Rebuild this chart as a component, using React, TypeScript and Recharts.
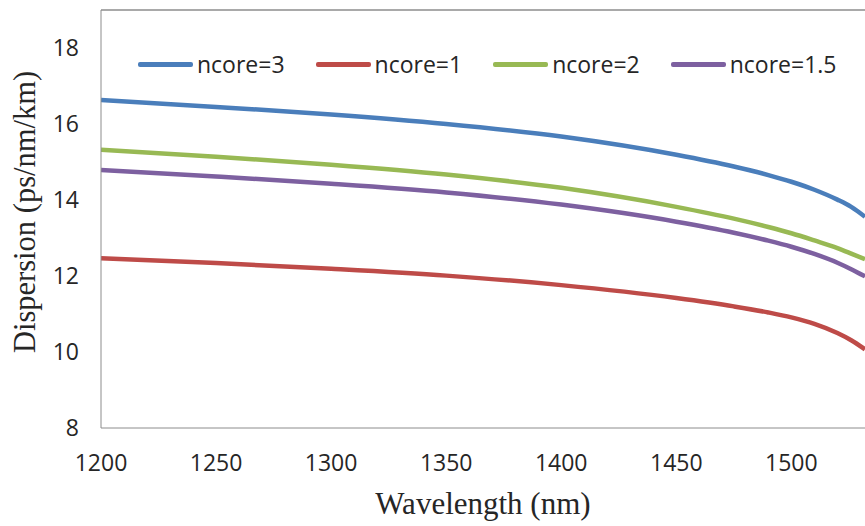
import React from "react";
import {
  LineChart,
  Line,
  XAxis,
  YAxis,
  ReferenceLine,
  Legend,
} from "recharts";

// wavelength samples (nm), denser near the right edge where curves bend
const wavelengths = [1200, 1250, 1300, 1350, 1400, 1450, 1475, 1490, 1500, 1510, 1520, 1526, 1532];

const ncore3 = [16.63, 16.45, 16.25, 16.0, 15.67, 15.19, 14.88, 14.655, 14.48, 14.27, 14.01, 13.82, 13.56];
const ncore1 = [12.47, 12.34, 12.19, 12.01, 11.76, 11.42, 11.2, 11.04, 10.91, 10.74, 10.5, 10.31, 10.07];
const ncore2 = [15.32, 15.14, 14.93, 14.67, 14.32, 13.82, 13.51, 13.29, 13.125, 12.935, 12.735, 12.59, 12.44];
const ncore15 = [14.79, 14.62, 14.43, 14.2, 13.88, 13.43, 13.14, 12.93, 12.77, 12.58, 12.35, 12.18, 11.99];

const xTicks = [1200, 1250, 1300, 1350, 1400, 1450, 1500];
const yTicks = [8, 10, 12, 14, 16, 18];

const series = [
  { key: "ncore=3", values: ncore3, color: "#4a7ebb" },
  { key: "ncore=1", values: ncore1, color: "#be4b48" },
  { key: "ncore=2", values: ncore2, color: "#98b954" },
  { key: "ncore=1.5", values: ncore15, color: "#7d60a0" },
];

const data = wavelengths.map((wl, i) => {
  const row: Record<string, number> = { wl };
  series.forEach((s) => {
    row[s.key] = s.values[i];
  });
  return row;
});

const tickFont = { fontFamily: "'Open Sans', sans-serif", fontSize: 23, fill: "#262626" };

function renderLegend() {
  return (
    <div style={{ display: "flex", fontFamily: "'Open Sans', sans-serif", fontSize: 23, color: "#262626" }}>
      {series.map((s) => (
        <div key={s.key} style={{ display: "flex", alignItems: "center", marginRight: 31 }}>
          <div style={{ width: 55, height: 5, background: s.color, borderRadius: 2, marginRight: 4 }} />
          <span>{s.key}</span>
        </div>
      ))}
    </div>
  );
}

export default function App() {
  return (
    <div style={{ position: "absolute", left: 0, top: 0, width: 865, height: 526, background: "#fff" }}>
      <LineChart width={865} height={526} data={data} margin={{ top: 10, right: 0, bottom: 0, left: 0 }}>
        <XAxis
          dataKey="wl"
          type="number"
          domain={[1200, 1532]}
          ticks={xTicks}
          allowDataOverflow
          tickSize={0}
          tickMargin={27}
          height={98}
          stroke="#8c8c8c"
          tick={tickFont}
          label={{
            value: "Wavelength (nm)",
            position: "insideBottom",
            offset: 12,
            style: { fontFamily: "'Liberation Serif', serif", fontSize: 31, fill: "#262626" },
          }}
        />
        <YAxis
          type="number"
          domain={[8, 19]}
          ticks={yTicks}
          allowDataOverflow
          tickSize={0}
          tickMargin={22}
          width={101}
          stroke="#8c8c8c"
          tick={tickFont}
          label={() => (
            <text
              x={0}
              y={0}
              transform="translate(35, 212) rotate(-90)"
              textAnchor="middle"
              style={{ fontFamily: "'Liberation Serif', serif", fontSize: 30.5, fill: "#262626" }}
            >
              Dispersion (ps/nm/km)
            </text>
          )}
        />
        <ReferenceLine y={19} stroke="#8c8c8c" strokeWidth={1.5} />
        <Legend
          content={renderLegend}
          layout="horizontal"
          verticalAlign="middle"
          align="center"
          wrapperStyle={{ top: 48, left: 138, width: "auto" }}
        />
        {series.map((s) => (
          <Line
            key={s.key}
            type="monotone"
            dataKey={s.key}
            stroke={s.color}
            strokeWidth={4.5}
            dot={false}
            isAnimationActive={false}
          />
        ))}
      </LineChart>
    </div>
  );
}
